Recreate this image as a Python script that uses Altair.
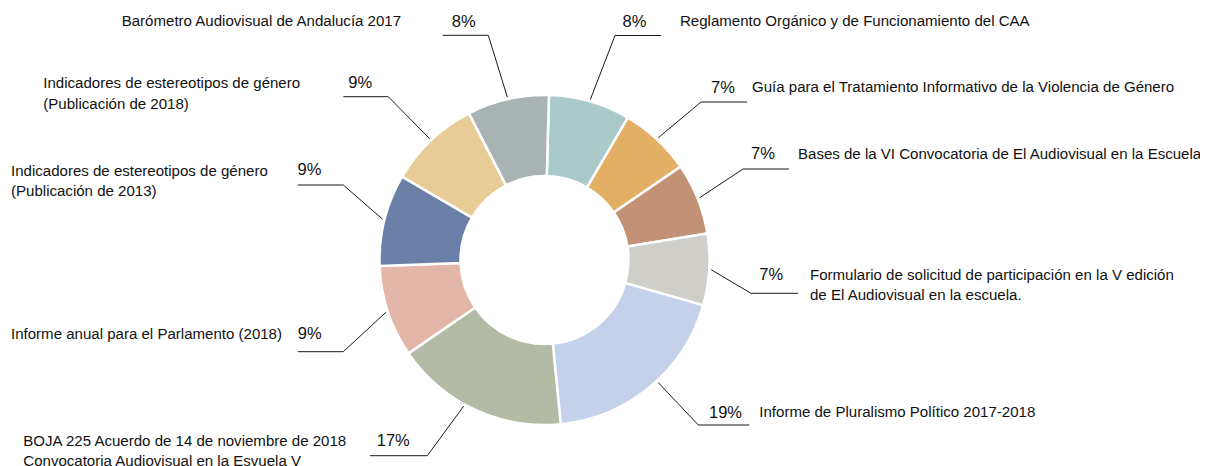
import math
import altair as alt
import pandas as pd

# ---------------- data ----------------
categories = [
    "Reglamento Orgánico y de Funcionamiento del CAA",
    "Guía para el Tratamiento Informativo de la Violencia de Género",
    "Bases de la VI Convocatoria de El Audiovisual en la Escuela",
    "Formulario de solicitud de participación en la V edición\nde El Audiovisual en la escuela.",
    "Informe de Pluralismo Político 2017-2018",
    "BOJA 225 Acuerdo de 14 de noviembre de 2018\nConvocatoria Audiovisual en la Esvuela V",
    "Informe anual para el Parlamento (2018)",
    "Indicadores de estereotipos de género\n(Publicación de 2013)",
    "Indicadores de estereotipos de género\n(Publicación de 2018)",
    "Barómetro Audiovisual de Andalucía 2017",
]
values = [8, 7, 7, 7, 19, 17, 9, 9, 9, 8]
colors = ["#aacaca", "#e3af65", "#c19275", "#cfcec8", "#c3d1ea",
          "#b3bba4", "#e3b7a8", "#6a80a6", "#e8cc96", "#a9b3b4"]

# ---------------- layout (page pixels) ----------------
elbow_x = [615, 701, 743, 751, 698.3, 427.3, 343.3, 343.3, 388.3, 488.3]
elbow_y = [35.5, 102, 169, 293.3, 425, 455.7, 351.7, 185, 96.7, 35.3]
end_x = [661, 747, 789, 798, 749.3, 370, 297.7, 297.7, 343.3, 442.7]
pct_x = [622.5, 711, 751, 759.3, 709, 376.7, 297.7, 297.5, 348.3, 451.7]
pct_y = [20.7, 86.7, 153.3, 274.3, 411.7, 440, 333.3, 169.5, 82, 20.7]
lab_x = [680, 752, 798, 810, 759.3, 23.3, 11, 11, 43.3, 121.7]
lab_y = [20.7, 86.7, 153.3, 274.3, 411.7, 440, 333.3, 170, 82.5, 20.7]
# small angular nudge of the leader start (degrees) for the two big slices
lead_nudge = [0, 0, 0, 0, -3, 4, 0, 0, 0, 0]

MARGIN = 8
W, H = 1192, 458
CX, CY = 544.5, 260.0          # donut centre (page px)
R_OUT, R_IN = 165, 84
OFFSET = 0.027                 # start angle (rad)
LINE_GAP = 20.5
FONT = "Liberation Sans"
FS_LAB = 15.05
FS_PCT = 16.5
TXT = "#111111"

total = sum(values)
slices = pd.DataFrame({"cat": categories, "value": values,
                       "idx": list(range(len(values)))})

# leader lines
rows = []
cum = 0
for i, v in enumerate(values):
    mid = (cum + v / 2) / total
    cum += v
    ang = OFFSET + mid * 2 * math.pi + math.radians(lead_nudge[i])
    sx = CX + 167 * math.sin(ang)
    sy = CY - 167 * math.cos(ang)
    pts = [(sx, sy), (elbow_x[i], elbow_y[i]), (end_x[i], elbow_y[i])]
    for k, (px, py) in enumerate(pts):
        rows.append({"id": i, "seq": k, "x": px - MARGIN, "y": py - MARGIN})
lines = pd.DataFrame(rows)

# texts
prow, lrow = [], []
for i, v in enumerate(values):
    prow.append({"x": pct_x[i] - MARGIN, "y": pct_y[i] + 5.9 - MARGIN, "t": f"{v}%"})
    for j, part in enumerate(categories[i].split("\n")):
        lrow.append({"x": lab_x[i] - MARGIN,
                     "y": lab_y[i] + j * LINE_GAP + 5.5 - MARGIN, "t": part})
pct_df = pd.DataFrame(prow)
lab_df = pd.DataFrame(lrow)

xs = alt.Scale(domain=[0, W], nice=False, zero=False)
ys = alt.Scale(domain=[0, H], nice=False, zero=False, reverse=True)

donut = alt.Chart(slices).mark_arc(
    radius=R_OUT, innerRadius=R_IN, stroke="white", strokeWidth=2.5
).encode(
    theta=alt.Theta("value:Q", stack=True,
                    scale=alt.Scale(range=[OFFSET, 2 * math.pi + OFFSET])),
    color=alt.Color("cat:N", scale=alt.Scale(domain=categories, range=colors),
                    legend=None),
    order=alt.Order("idx:Q"),
    x=alt.value(CX - MARGIN),
    y=alt.value(CY - MARGIN),
)

leaders = alt.Chart(lines).mark_line(color="#1a1a1a", strokeWidth=1).encode(
    x=alt.X("x:Q", scale=xs, axis=None),
    y=alt.Y("y:Q", scale=ys, axis=None),
    detail="id:N",
    order="seq:Q",
)

labels = alt.Chart(lab_df).mark_text(
    align="left", baseline="alphabetic", font=FONT, fontSize=FS_LAB, color=TXT
).encode(
    x=alt.X("x:Q", scale=xs, axis=None),
    y=alt.Y("y:Q", scale=ys, axis=None),
    text="t:N",
)

pcts = alt.Chart(pct_df).mark_text(
    align="left", baseline="alphabetic", font=FONT, fontSize=FS_PCT, color=TXT
).encode(
    x=alt.X("x:Q", scale=xs, axis=None),
    y=alt.Y("y:Q", scale=ys, axis=None),
    text="t:N",
)

chart = alt.layer(leaders, donut, labels, pcts).properties(
    width=W, height=H, padding=0, autosize=alt.AutoSizeParams(type="none")
).configure_view(stroke=None).resolve_scale(color="independent")

chart.save("out.html", embed_options={"renderer": "svg", "actions": False})
